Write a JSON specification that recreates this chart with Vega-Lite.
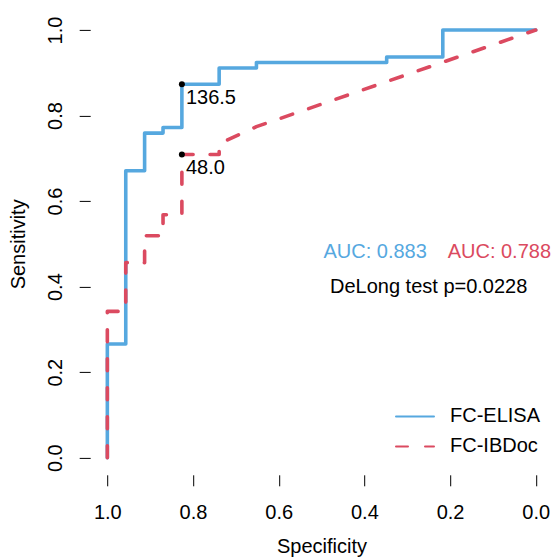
{
  "$schema": "https://vega.github.io/schema/vega-lite/v6.json",
  "width": 462.7,
  "height": 461.9,
  "autosize": {"type": "none"},
  "padding": {"left": 90.2, "top": 12.9, "right": 2.1, "bottom": 82.2},
  "background": "white",
  "config": {
    "view": {"stroke": null},
    "font": "Liberation Sans",
    "axis": {
      "grid": false,
      "domain": false,
      "tickSize": 11,
      "tickColor": "black",
      "tickWidth": 1,
      "labelFont": "Liberation Sans",
      "labelFontSize": 20,
      "labelColor": "black",
      "titleFont": "Liberation Sans",
      "titleFontSize": 20,
      "titleFontWeight": "normal",
      "titleColor": "black"
    },
    "legend": {
      "labelFont": "Liberation Sans",
      "labelFontSize": 20,
      "labelColor": "black"
    }
  },
  "datasets": {
    "roc": [
      {"test": "FC-ELISA", "i": 1, "spec": 1.0, "sens": 0.0},
      {"test": "FC-ELISA", "i": 2, "spec": 1.0, "sens": 0.266},
      {"test": "FC-ELISA", "i": 3, "spec": 0.957, "sens": 0.266},
      {"test": "FC-ELISA", "i": 4, "spec": 0.957, "sens": 0.671},
      {"test": "FC-ELISA", "i": 5, "spec": 0.913, "sens": 0.671},
      {"test": "FC-ELISA", "i": 6, "spec": 0.913, "sens": 0.759},
      {"test": "FC-ELISA", "i": 7, "spec": 0.870, "sens": 0.759},
      {"test": "FC-ELISA", "i": 8, "spec": 0.870, "sens": 0.772},
      {"test": "FC-ELISA", "i": 9, "spec": 0.826, "sens": 0.772},
      {"test": "FC-ELISA", "i": 10, "spec": 0.826, "sens": 0.873},
      {"test": "FC-ELISA", "i": 11, "spec": 0.739, "sens": 0.873},
      {"test": "FC-ELISA", "i": 12, "spec": 0.739, "sens": 0.911},
      {"test": "FC-ELISA", "i": 13, "spec": 0.652, "sens": 0.911},
      {"test": "FC-ELISA", "i": 14, "spec": 0.652, "sens": 0.924},
      {"test": "FC-ELISA", "i": 15, "spec": 0.348, "sens": 0.924},
      {"test": "FC-ELISA", "i": 16, "spec": 0.348, "sens": 0.937},
      {"test": "FC-ELISA", "i": 17, "spec": 0.217, "sens": 0.937},
      {"test": "FC-ELISA", "i": 18, "spec": 0.217, "sens": 1.0},
      {"test": "FC-ELISA", "i": 19, "spec": 0.0, "sens": 1.0},
      {"test": "FC-IBDoc", "i": 1, "spec": 1.0, "sens": 0.0},
      {"test": "FC-IBDoc", "i": 2, "spec": 1.0, "sens": 0.342},
      {"test": "FC-IBDoc", "i": 3, "spec": 0.957, "sens": 0.342},
      {"test": "FC-IBDoc", "i": 4, "spec": 0.957, "sens": 0.456},
      {"test": "FC-IBDoc", "i": 5, "spec": 0.913, "sens": 0.456},
      {"test": "FC-IBDoc", "i": 6, "spec": 0.913, "sens": 0.519},
      {"test": "FC-IBDoc", "i": 7, "spec": 0.870, "sens": 0.519},
      {"test": "FC-IBDoc", "i": 8, "spec": 0.870, "sens": 0.568},
      {"test": "FC-IBDoc", "i": 9, "spec": 0.826, "sens": 0.568},
      {"test": "FC-IBDoc", "i": 10, "spec": 0.826, "sens": 0.709},
      {"test": "FC-IBDoc", "i": 11, "spec": 0.739, "sens": 0.709},
      {"test": "FC-IBDoc", "i": 12, "spec": 0.739, "sens": 0.734},
      {"test": "FC-IBDoc", "i": 13, "spec": 0.652, "sens": 0.774},
      {"test": "FC-IBDoc", "i": 14, "spec": 0.0, "sens": 1.0}
    ],
    "thr": [
      {"test": "FC-ELISA", "spec": 0.826, "sens": 0.873, "label": "136.5"},
      {"test": "FC-IBDoc", "spec": 0.826, "sens": 0.709, "label": "48.0"}
    ],
    "auc": [
      {"test": "FC-ELISA", "spec": 0.375, "sens": 0.48, "label": "AUC: 0.883"},
      {"test": "FC-IBDoc", "spec": 0.085, "sens": 0.48, "label": "AUC: 0.788"}
    ],
    "delong": [
      {"spec": 0.25, "sens": 0.40, "label": "DeLong test p=0.0228"}
    ]
  },
  "layer": [
    {
      "mark": {"type": "rule", "color": "#A9A9A9", "strokeWidth": 1},
      "encoding": {
        "x": {"datum": 1.04, "type": "quantitative"},
        "y": {"datum": -0.04, "type": "quantitative"},
        "x2": {"datum": -0.04},
        "y2": {"datum": 1.04}
      }
    },
    {
      "mark": {"type": "rule", "color": "black", "strokeWidth": 1},
      "encoding": {
        "x": {"datum": 1, "type": "quantitative"},
        "x2": {"datum": 0},
        "y": {"datum": -0.04, "type": "quantitative"}
      }
    },
    {
      "mark": {"type": "rule", "color": "black", "strokeWidth": 1},
      "encoding": {
        "x": {"datum": 1.04, "type": "quantitative"},
        "y": {"datum": 0, "type": "quantitative"},
        "y2": {"datum": 1}
      }
    },
    {
      "data": {"name": "roc"},
      "mark": {"type": "line", "strokeWidth": 3.6, "strokeCap": "round", "strokeJoin": "round"},
      "encoding": {
        "x": {
          "field": "spec", "type": "quantitative",
          "scale": {"domain": [-0.04, 1.04], "reverse": true, "nice": false, "zero": false},
          "axis": {"title": "Specificity", "values": [0, 0.2, 0.4, 0.6, 0.8, 1], "format": ".1f", "labelPadding": 17, "titleBaseline": "middle", "titleY": 71.5}
        },
        "y": {
          "field": "sens", "type": "quantitative",
          "scale": {"domain": [-0.04, 1.04], "nice": false, "zero": false},
          "axis": {"title": "Sensitivity", "values": [0, 0.2, 0.4, 0.6, 0.8, 1], "format": ".1f", "labelAngle": -90, "labelAlign": "center", "labelBaseline": "alphabetic", "labelPadding": 17.5, "titleAngle": -90, "titleBaseline": "middle", "titleX": -72, "titleY": 230.95}
        },
        "order": {"field": "i", "type": "quantitative"},
        "color": {
          "field": "test", "type": "nominal",
          "scale": {"domain": ["FC-ELISA", "FC-IBDoc"], "range": ["#56A8DF", "#DB4A60"]},
          "legend": {
            "title": null, "orient": "none", "legendX": 304.8, "legendY": 383.5,
            "symbolType": "stroke", "symbolSize": 1444, "symbolStrokeWidth": 2,
            "labelOffset": 15, "rowPadding": -10, "padding": 0,
            "encode": {"symbols": {"update": {"strokeDash": {"signal": "datum.value === 'FC-IBDoc' ? [11, 14] : [1, 0]"}, "strokeCap": {"value": "round"}}}}
          }
        },
        "strokeDash": {
          "field": "test", "type": "nominal",
          "scale": {"domain": ["FC-ELISA", "FC-IBDoc"], "range": [[1, 0], [12, 17]]},
          "legend": null
        }
      }
    },
    {
      "data": {"name": "thr"},
      "mark": {"type": "point", "filled": true, "color": "black", "size": 36, "opacity": 1},
      "encoding": {
        "x": {"field": "spec", "type": "quantitative"},
        "y": {"field": "sens", "type": "quantitative"}
      }
    },
    {
      "data": {"name": "thr"},
      "mark": {"type": "text", "align": "left", "baseline": "middle", "dx": 4, "dy": 14, "fontSize": 20, "color": "black"},
      "encoding": {
        "x": {"field": "spec", "type": "quantitative"},
        "y": {"field": "sens", "type": "quantitative"},
        "text": {"field": "label"}
      }
    },
    {
      "data": {"name": "auc"},
      "mark": {"type": "text", "align": "center", "baseline": "middle", "fontSize": 20},
      "encoding": {
        "x": {"field": "spec", "type": "quantitative"},
        "y": {"field": "sens", "type": "quantitative"},
        "text": {"field": "label"},
        "color": {"condition": {"test": "datum.test === 'FC-ELISA'", "value": "#56A8DF"}, "value": "#DB4A60"}
      }
    },
    {
      "data": {"name": "delong"},
      "mark": {"type": "text", "align": "center", "baseline": "middle", "fontSize": 20, "color": "black"},
      "encoding": {
        "x": {"field": "spec", "type": "quantitative"},
        "y": {"field": "sens", "type": "quantitative"},
        "text": {"field": "label"}
      }
    }
  ]
}
